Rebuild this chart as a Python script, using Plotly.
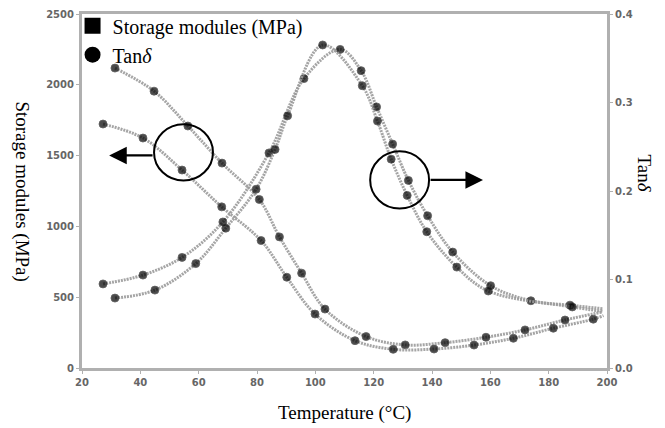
import plotly.graph_objects as go

# ---- data ----
s1_temp = [31.3, 44.7, 56.3, 68.0, 80.8, 87.7, 95.3, 103.3, 117.4, 130.8, 144.5, 158.5, 171.9, 185.6, 198.3]
s1_mod = [2118, 1955, 1709, 1447, 1190, 926, 670, 416, 222, 163, 179, 217, 269, 339, 395]

s2_temp = [27.2, 40.9, 54.3, 67.9, 81.4, 90.2, 99.9, 113.6, 126.7, 140.7, 154.4, 167.9, 181.6, 195.3, 198.8]
s2_mod = [1723, 1624, 1398, 1138, 900, 641, 381, 193, 132, 134, 162, 210, 281, 345, 370]

t1_temp = [27.2, 40.9, 54.3, 68.3, 84.1, 96.1, 108.5, 115.7, 121.0, 126.5, 131.9, 138.5, 147.1, 160.1, 173.9, 187.3, 198.5]
t1_tan = [0.095, 0.105, 0.125, 0.165, 0.243, 0.327, 0.360, 0.336, 0.295, 0.253, 0.212, 0.172, 0.131, 0.093, 0.076, 0.071, 0.067]

t2_temp = [31.3, 45.0, 59.0, 69.3, 79.7, 86.2, 90.5, 102.5, 116.1, 121.3, 126.0, 131.5, 138.2, 148.5, 159.3, 188.1, 198.5]
t2_tan = [0.079, 0.088, 0.118, 0.158, 0.202, 0.247, 0.285, 0.365, 0.319, 0.279, 0.236, 0.195, 0.154, 0.114, 0.087, 0.069, 0.064]

x_ticks = [20, 40, 60, 80, 100, 120, 140, 160, 180, 200]
y_ticks = [0, 500, 1000, 1500, 2000, 2500]
y2_ticks = [0.0, 0.1, 0.2, 0.3, 0.4]

LINE_COL = "rgba(155,155,155,0.9)"
MARK_COL = "#000000"
SERIF = "Liberation Serif"

fig = go.Figure()


def add_series(xs, ys, axis):
    sizes = [8] * (len(xs) - 1) + [0]  # last point only ends the line
    fig.add_trace(go.Scatter(
        x=xs, y=ys, yaxis=axis, mode="lines+markers",
        line=dict(color=LINE_COL, width=3, shape="spline", dash="2px,1px"),
        marker=dict(color=MARK_COL, size=sizes, symbol="circle",
                    line=dict(color="rgba(30,30,30,0.8)", width=1)),
        showlegend=False, hoverinfo="skip"))


add_series(s1_temp, s1_mod, "y")
add_series(s2_temp, s2_mod, "y")
add_series(t1_temp, t1_tan, "y2")
add_series(t2_temp, t2_tan, "y2")

# legend entries
fig.add_trace(go.Scatter(x=[None], y=[None], mode="markers", name="Storage modules (MPa)",
                         marker=dict(symbol="square", size=16, color="black")))
fig.add_trace(go.Scatter(x=[None], y=[None], mode="markers", name="Tan<i>δ</i>",
                         marker=dict(symbol="circle", size=16, color="black")))

tickfont = dict(family="DejaVu Sans", size=10, color="#666666", weight="bold")
axis_common = dict(showgrid=False, zeroline=False, showline=True, linecolor="#b0b0b0",
                   linewidth=3, ticks="outside", ticklen=3, tickcolor="#b0b0b0",
                   tickwidth=1, tickfont=tickfont)

fig.update_layout(
    width=665, height=428,
    margin=dict(l=82, r=58, t=14, b=60, autoexpand=False),
    paper_bgcolor="white", plot_bgcolor="white",
    xaxis=dict(range=[20, 200], tickvals=x_ticks, mirror=True, **axis_common),
    yaxis=dict(range=[0, 2500], tickvals=y_ticks, **axis_common),
    yaxis2=dict(range=[0, 0.4], tickvals=y2_ticks, tickformat=".1f", overlaying="y",
                side="right", **axis_common),
    legend=dict(x=-0.018, y=1.022, xanchor="left", yanchor="top",
                font=dict(family=SERIF, size=20, color="black"),
                bgcolor="rgba(0,0,0,0)", itemwidth=30, tracegroupgap=0),
    showlegend=True,
)

# axis titles (reading top to bottom on both sides)
fig.add_annotation(text="Storage modules (MPa)", xref="paper", yref="paper",
                   x=-0.115, y=0.5, xanchor="center", yanchor="middle", textangle=90,
                   showarrow=False, font=dict(family=SERIF, size=19, color="black"))
fig.add_annotation(text="Tan<i>δ</i>", xref="paper", yref="paper",
                   x=1.072, y=0.55, xanchor="center", yanchor="middle", textangle=90,
                   showarrow=False, font=dict(family=SERIF, size=19, color="black"))
fig.add_annotation(text="Temperature (°C)", xref="paper", yref="paper",
                   x=0.5, y=-0.09, xanchor="center", yanchor="top",
                   showarrow=False, font=dict(family=SERIF, size=19, color="black"))

# circles with arrows pointing to the relevant axis
fig.add_shape(type="circle", xref="x", yref="y", x0=44.7, x1=64.9, y0=1324, y1=1721,
              line=dict(color="black", width=2))
fig.add_shape(type="circle", xref="x", yref="y", x0=118.8, x1=139.0, y0=1126, y1=1530,
              line=dict(color="black", width=2))
fig.add_annotation(x=29.3, y=1501, ax=44.7, ay=1501, xref="x", yref="y", axref="x", ayref="y",
                   showarrow=True, arrowhead=2, arrowsize=1.6, arrowwidth=2.2, arrowcolor="black", text="")
fig.add_annotation(x=157.5, y=1328, ax=139.0, ay=1328, xref="x", yref="y", axref="x", ayref="y",
                   showarrow=True, arrowhead=2, arrowsize=1.6, arrowwidth=2.2, arrowcolor="black", text="")

fig.write_html("out.html", config={"displayModeBar": False},
               post_script="document.body.style.margin='0';")
